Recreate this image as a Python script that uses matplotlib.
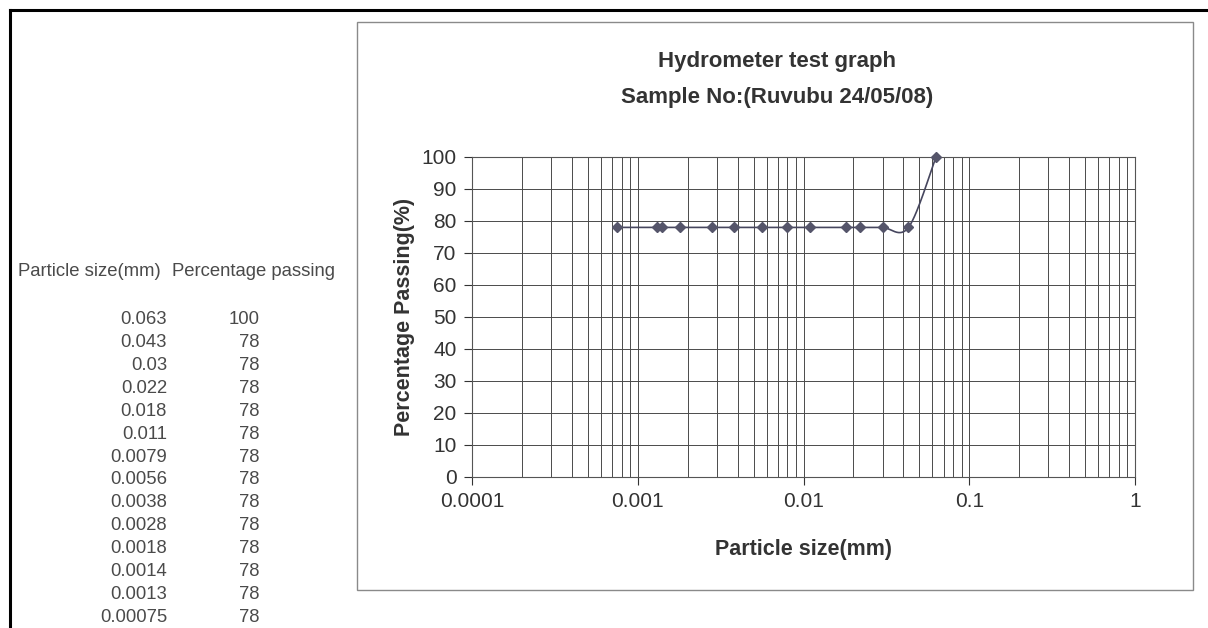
import numpy as np
import matplotlib.pyplot as plt
from matplotlib.lines import Line2D
from matplotlib.patches import Rectangle
from matplotlib.ticker import LogLocator, NullFormatter, FixedLocator, FixedFormatter

plt.rcParams['font.family'] = ['Liberation Sans', 'DejaVu Sans']

# data from the table in the reference
size_labels = ["0.063", "0.043", "0.03", "0.022", "0.018", "0.011", "0.0079",
               "0.0056", "0.0038", "0.0028", "0.0018", "0.0014", "0.0013", "0.00075"]
passing = [100, 78, 78, 78, 78, 78, 78, 78, 78, 78, 78, 78, 78, 78]
sizes = [float(s) for s in size_labels]

title1 = "Hydrometer test graph"
title2 = "Sample No:(Ruvubu 24/05/08)"
xticks = [0.0001, 0.001, 0.01, 0.1, 1]
xtick_labels = ["0.0001", "0.001", "0.01", "0.1", "1"]

W, H = 1208, 628
fig = plt.figure(figsize=(W / 100, H / 100), dpi=100)

def fx(px):
    return px / W

def fy(py):
    return 1 - py / H

# page border (scan)
fig.add_artist(Line2D([fx(10), 1], [fy(10), fy(10)], color='black', lw=2.2))
fig.add_artist(Line2D([fx(10), fx(10)], [fy(10), 0], color='black', lw=2.2))

# chart area box
fig.add_artist(Rectangle((fx(357), fy(590)), fx(1193) - fx(357), fy(22) - fy(590),
                         fill=False, edgecolor='#8a8a8a', lw=1.0))

# table on the left
tc = '#4a4a4a'
fs_tab = 13.3
fig.text(fx(18), fy(271), "Particle size(mm)", fontsize=fs_tab, color=tc, va='center', ha='left')
fig.text(fx(172), fy(271), "Percentage passing", fontsize=fs_tab, color=tc, va='center', ha='left')
for i, (s, p) in enumerate(zip(size_labels, passing)):
    yy = fy(320 + i * 22.85)
    fig.text(fx(167), yy, s, fontsize=fs_tab, color=tc, va='center', ha='right')
    fig.text(fx(260), yy, str(p), fontsize=fs_tab, color=tc, va='center', ha='right')

# titles
fig.text(fx(777), fy(62), title1, fontsize=16, fontweight='bold', color='#333333',
         ha='center', va='center')
fig.text(fx(777), fy(97), title2, fontsize=16, fontweight='bold', color='#333333',
         ha='center', va='center')

ax = fig.add_axes([fx(472), fy(477), fx(1135) - fx(472), fy(157) - fy(477)])
ax.set_xscale('log')
ax.set_xlim(1e-4, 1)
ax.set_ylim(0, 100)

# smoothed line (Catmull-Rom in log-x space, like Excel smoothing)
order = np.argsort(sizes)
lx = np.log10(np.array(sizes)[order])
yv = np.array(passing, dtype=float)[order]
px = np.concatenate([[lx[0]], lx, [lx[-1]]])
py = np.concatenate([[yv[0]], yv, [yv[-1]]])
cx, cy = [], []
t = np.linspace(0, 1, 30)
for i in range(1, len(px) - 2):
    p0x, p1x, p2x, p3x = px[i - 1], px[i], px[i + 1], px[i + 2]
    p0y, p1y, p2y, p3y = py[i - 1], py[i], py[i + 1], py[i + 2]
    b1x, b1y = p1x + (p2x - p0x) / 6, p1y + (p2y - p0y) / 6
    b2x, b2y = p2x - (p3x - p1x) / 6, p2y - (p3y - p1y) / 6
    cx.extend((1 - t) ** 3 * p1x + 3 * (1 - t) ** 2 * t * b1x + 3 * (1 - t) * t ** 2 * b2x + t ** 3 * p2x)
    cy.extend((1 - t) ** 3 * p1y + 3 * (1 - t) ** 2 * t * b1y + 3 * (1 - t) * t ** 2 * b2y + t ** 3 * p2y)
ax.plot(10 ** np.array(cx), cy, color='#46465e', lw=1.2, zorder=3)
ax.plot(sizes, passing, linestyle='none', marker='D', markersize=5,
        color='#55556a', zorder=4, clip_on=False)

ax.xaxis.set_major_locator(FixedLocator(xticks))
ax.xaxis.set_major_formatter(FixedFormatter(xtick_labels))
ax.xaxis.set_minor_locator(LogLocator(base=10, subs=np.arange(2, 10)))
ax.xaxis.set_minor_formatter(NullFormatter())
ax.set_yticks(range(0, 101, 10))
ax.grid(True, which='both', axis='x', color='#4a4a4a', lw=0.7)
ax.grid(True, which='major', axis='y', color='#4a4a4a', lw=0.7)
ax.tick_params(axis='both', which='major', labelsize=15, colors='#333333',
               direction='out', length=6)
ax.tick_params(axis='x', which='minor', length=0)
ax.tick_params(axis='x', pad=5)
ax.tick_params(axis='y', pad=5)
for sp in ax.spines.values():
    sp.set_color('#555555')
    sp.set_linewidth(0.8)

ax.set_xlabel("Particle size(mm)", fontsize=15.5, fontweight='bold', color='#333333', labelpad=20)
ax.set_ylabel("Percentage Passing(%)", fontsize=15.5, fontweight='bold', color='#333333', labelpad=5)

fig.savefig("out.png", dpi=100)
